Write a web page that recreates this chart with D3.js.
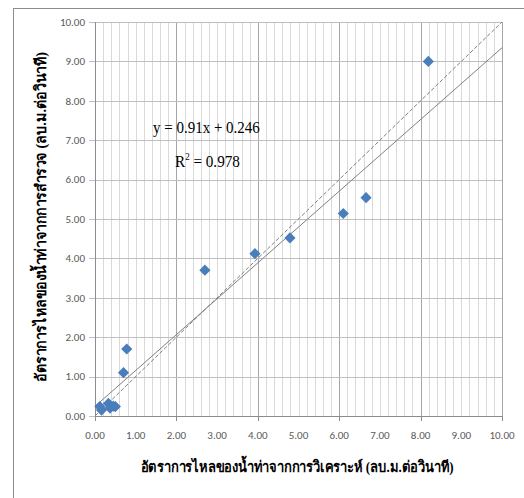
<!DOCTYPE html>
<html>
<head>
<meta charset="utf-8">
<script src="https://cdn.jsdelivr.net/npm/d3@7"></script>
<style>
  body { margin: 0; background: #fff; }
  svg { display: block; }
</style>
</head>
<body>
<div id="chart"></div>
<script>
// observed (measured) flow vs analysed flow, m3/s
const analysed = [0.12, 0.16, 0.33, 0.37, 0.45, 0.50, 0.70, 0.78, 2.70, 3.93, 4.79, 6.10, 6.66, 8.19]
const observed = [0.24, 0.15, 0.32, 0.20, 0.25, 0.24, 1.10, 1.70, 3.70, 4.12, 4.52, 5.14, 5.54, 9.00]

const tickValues = [0, 1, 2, 3, 4, 5, 6, 7, 8, 9, 10]
const trendSlope = 0.91, trendIntercept = 0.246
const eqText = 'y = 0.91x + 0.246'
const r2Text = '0.978'
const xTitle = 'อัตราการไหลของน้ำท่าจากการวิเคราะห์ (ลบ.ม.ต่อวินาที)'
const yTitle = 'อัตราการไหลของน้ำท่าจากการสำรวจ (ลบ.ม.ต่อวินาที)'

const width = 524, height = 498
const margin = { top: 22, right: 22, bottom: 82, left: 95 }

const svg = d3.select('#chart').append('svg')
    .attr('width', width)
    .attr('height', height)

// outer chart frame
svg.append('rect')
    .attr('x', 13.5).attr('y', 8.5)
    .attr('width', width).attr('height', height)
    .attr('fill', 'none')
    .attr('stroke', '#8c8c8c')

const x = d3.scaleLinear().domain([0, 10]).range([margin.left, width - margin.right])
const y = d3.scaleLinear().domain([0, 10]).range([height - margin.bottom, margin.top])

const g = svg.append('g')

// minor vertical gridlines every 0.2, darker every 2
g.append('g').selectAll('line')
    .data(d3.range(0, 51).map(i => i / 5))
    .join('line')
    .attr('x1', d => Math.round(x(d)) + 0.5).attr('x2', d => Math.round(x(d)) + 0.5)
    .attr('y1', y(10)).attr('y2', y(0))
    .attr('stroke', d => (Math.round(d * 5) % 10 === 0) ? '#a6a6a6' : '#d9d9d9')

// horizontal gridlines every 1 (with short outer ticks)
g.append('g').selectAll('line')
    .data(tickValues)
    .join('line')
    .attr('x1', x(0) - 6).attr('x2', x(10))
    .attr('y1', d => Math.round(y(d)) + 0.5).attr('y2', d => Math.round(y(d)) + 0.5)
    .attr('stroke', '#bfbfbf')

// axes lines
g.append('line')
    .attr('x1', Math.round(x(0)) + 0.5).attr('x2', Math.round(x(0)) + 0.5)
    .attr('y1', y(10)).attr('y2', y(0))
    .attr('stroke', '#8c8c8c')
g.append('line')
    .attr('x1', x(0)).attr('x2', x(10))
    .attr('y1', Math.round(y(0)) + 0.5).attr('y2', Math.round(y(0)) + 0.5)
    .attr('stroke', '#8c8c8c')
g.append('g').selectAll('line')
    .data([0, 2, 4, 6, 8, 10])
    .join('line')
    .attr('x1', d => Math.round(x(d)) + 0.5).attr('x2', d => Math.round(x(d)) + 0.5)
    .attr('y1', y(0)).attr('y2', y(0) + 5)
    .attr('stroke', '#8c8c8c')

// tick labels
g.append('g').selectAll('text')
    .data(tickValues)
    .join('text')
    .attr('x', x(0) - 10)
    .attr('y', d => y(d))
    .attr('dy', '0.35em')
    .attr('text-anchor', 'end')
    .attr('font-family', 'Carlito, "Liberation Sans", sans-serif')
    .attr('font-size', 11)
    .attr('fill', '#595959')
    .text(d => d.toFixed(2))

g.append('g').selectAll('text')
    .data(tickValues)
    .join('text')
    .attr('x', d => x(d))
    .attr('y', y(0) + 23)
    .attr('text-anchor', 'middle')
    .attr('font-family', 'Carlito, "Liberation Sans", sans-serif')
    .attr('font-size', 11)
    .attr('fill', '#595959')
    .text(d => d.toFixed(2))

// 1:1 dashed line
g.append('line')
    .attr('x1', x(0)).attr('y1', y(0))
    .attr('x2', x(10)).attr('y2', y(10))
    .attr('stroke', '#7f7f7f')
    .attr('stroke-dasharray', '4,2')

// trend line
g.append('line')
    .attr('x1', x(0)).attr('y1', y(trendIntercept))
    .attr('x2', x(10)).attr('y2', y(trendSlope * 10 + trendIntercept))
    .attr('stroke', '#7f7f7f')

// points (diamonds)
const diamond = d3.symbol().type(d3.symbolDiamond2).size(80)
g.append('g').selectAll('path')
    .data(analysed.map((v, i) => [v, observed[i]]))
    .join('path')
    .attr('d', diamond)
    .attr('transform', d => 'translate(' + x(d[0]) + ',' + y(d[1]) + ')')
    .attr('fill', '#4a7ebb')

// stretch a text node horizontally so it spans the wanted width
function fitWidth(sel, px, py, want) {
    let w = sel.node().getComputedTextLength()
    sel.attr('transform', 'translate(' + px + ',' + py + ') scale(' + (want / w) + ',1)')
}

// equation text
const eq = svg.append('text')
    .attr('font-family', '"Liberation Serif", serif')
    .attr('font-size', 17)
    .attr('fill', '#000')
    .text(eqText)
fitWidth(eq, 153, 133, 107)

const r2 = svg.append('text')
    .attr('font-family', '"Liberation Serif", serif')
    .attr('font-size', 17)
    .attr('fill', '#000')
r2.append('tspan').text('R')
r2.append('tspan').attr('font-size', 10).attr('dy', -7).text('2')
r2.append('tspan').attr('dy', 7).text(' = ' + r2Text)
fitWidth(r2, 175, 167, 65)

// axis titles
svg.append('text')
    .attr('x', 297).attr('y', 472)
    .attr('text-anchor', 'middle')
    .attr('font-family', '"Liberation Serif", serif')
    .attr('font-weight', 'bold')
    .attr('font-size', 15)
    .attr('textLength', 313)
    .attr('lengthAdjust', 'spacingAndGlyphs')
    .text(xTitle)

svg.append('text')
    .attr('transform', 'translate(46,' + 217 + ') rotate(-90)')
    .attr('text-anchor', 'middle')
    .attr('font-family', '"Liberation Serif", serif')
    .attr('font-weight', 'bold')
    .attr('font-size', 15)
    .attr('textLength', 330)
    .attr('lengthAdjust', 'spacingAndGlyphs')
    .text(yTitle)
</script>
</body>
</html>
